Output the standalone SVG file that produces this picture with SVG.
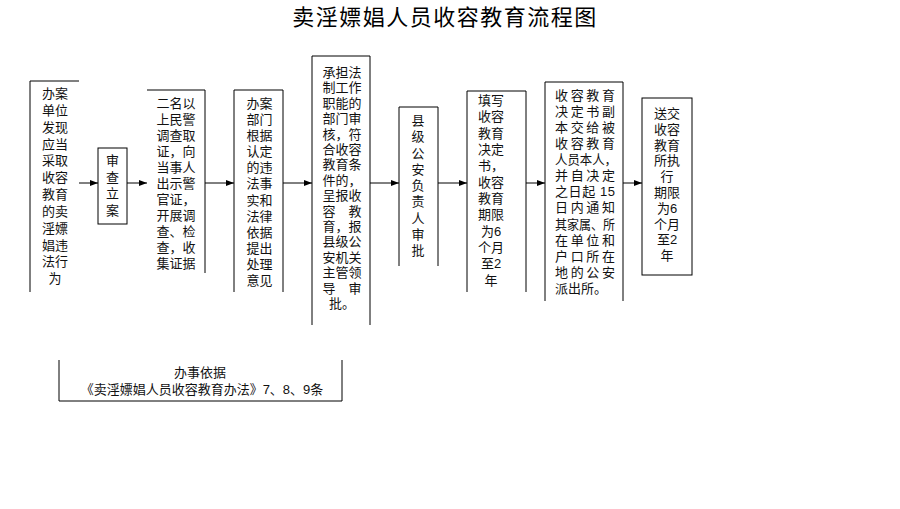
<svg xmlns="http://www.w3.org/2000/svg" width="900" height="509" viewBox="0 0 900 509">
<style>
.b{fill:none;stroke:#000;stroke-width:1}
.t{font-family:"Liberation Sans","Noto Sans CJK SC",sans-serif;font-size:13px;fill:#111;text-anchor:middle}
.l{text-anchor:start}
.c{stroke:#000;stroke-width:1;fill:none}
</style>
<defs>
<marker id="ah" markerWidth="8" markerHeight="6" refX="8" refY="3" orient="auto" markerUnits="userSpaceOnUse">
<path d="M0,0 L8,3 L0,6 Z" fill="#000"/>
</marker>
</defs>
<rect width="900" height="509" fill="#fff"/>
<text x="445" y="25" style="font-family:'Liberation Sans','Noto Sans CJK SC',sans-serif;font-size:22px;letter-spacing:1.5px;text-anchor:middle;fill:#000">卖淫嫖娼人员收容教育流程图</text>

<g id="n1">
<path class="b" d="M79,81 H30 V292"/>
<text class="t" x="55"><tspan x="55" y="98">办案</tspan><tspan x="55" y="115">单位</tspan><tspan x="55" y="132">发现</tspan><tspan x="55" y="149">应当</tspan><tspan x="55" y="165">采取</tspan><tspan x="55" y="182">收容</tspan><tspan x="55" y="199">教育</tspan><tspan x="55" y="216">的卖</tspan><tspan x="55" y="233">淫嫖</tspan><tspan x="55" y="250">娼违</tspan><tspan x="55" y="266">法行</tspan><tspan x="55" y="283">为</tspan></text>
</g>

<g id="n2">
<rect class="b" x="98" y="148" width="29" height="76"/>
<text class="t"><tspan x="112.5" y="165">审</tspan><tspan x="112.5" y="182">查</tspan><tspan x="112.5" y="198">立</tspan><tspan x="112.5" y="215">案</tspan></text>
</g>

<g id="n3">
<path class="b" d="M147,90 H205 V273"/>
<text class="t"><tspan x="176" y="108">二名以</tspan><tspan x="176" y="124">上民警</tspan><tspan x="176" y="140">调查取</tspan><tspan x="176" y="156">证，向</tspan><tspan x="176" y="172">当事人</tspan><tspan x="176" y="188">出示警</tspan><tspan x="176" y="204">官证，</tspan><tspan x="176" y="220">开展调</tspan><tspan x="176" y="236">查、检</tspan><tspan x="176" y="252">查，收</tspan><tspan x="176" y="268">集证据</tspan></text>
</g>

<g id="n4">
<path class="b" d="M234,292 V90 H283 V292"/>
<text class="t"><tspan x="259.5" y="108">办案</tspan><tspan x="259.5" y="124">部门</tspan><tspan x="259.5" y="140">根据</tspan><tspan x="259.5" y="156">认定</tspan><tspan x="259.5" y="172">的违</tspan><tspan x="259.5" y="188">法事</tspan><tspan x="259.5" y="205">实和</tspan><tspan x="259.5" y="221">法律</tspan><tspan x="259.5" y="237">依据</tspan><tspan x="259.5" y="253">提出</tspan><tspan x="259.5" y="269">处理</tspan><tspan x="259.5" y="285">意见</tspan></text>
</g>

<g id="n5">
<path class="b" d="M312,325 V56 H370 V325"/>
<text class="t"><tspan x="342" y="77">承担法</tspan><tspan x="342" y="92">制工作</tspan><tspan x="342" y="108">职能的</tspan><tspan x="342" y="123">部门审</tspan><tspan x="342" y="139">核，符</tspan><tspan x="342" y="154">合收容</tspan><tspan x="342" y="169">教育条</tspan><tspan x="342" y="185">件的，</tspan><tspan x="342" y="200">呈报收</tspan><tspan x="342" y="216">容　教</tspan><tspan x="342" y="231">育，报</tspan><tspan x="342" y="246">县级公</tspan><tspan x="342" y="262">安机关</tspan><tspan x="342" y="277">主管领</tspan><tspan x="342" y="293">导　审</tspan><tspan x="342" y="308">批。</tspan></text>
</g>

<g id="n6">
<path class="b" d="M399,266 V107 H438 V266"/>
<text class="t"><tspan x="418" y="125">县</tspan><tspan x="418" y="141">级</tspan><tspan x="418" y="158">公</tspan><tspan x="418" y="174">安</tspan><tspan x="418" y="190">负</tspan><tspan x="418" y="206">责</tspan><tspan x="418" y="223">人</tspan><tspan x="418" y="239">审</tspan><tspan x="418" y="255">批</tspan></text>
</g>

<g id="n7">
<path class="b" d="M467,292 V91 H526 V292"/>
<text class="t"><tspan x="491" y="105">填写</tspan><tspan x="491" y="121">收容</tspan><tspan x="491" y="138">教育</tspan><tspan x="491" y="154">决定</tspan><tspan x="491" y="170">书，</tspan><tspan x="491" y="187">收容</tspan><tspan x="491" y="203">教育</tspan><tspan x="491" y="219">期限</tspan><tspan x="491" y="236">为6</tspan><tspan x="491" y="252">个月</tspan><tspan x="491" y="268">至2</tspan><tspan x="491" y="285">年</tspan></text>
</g>

<g id="n8">
<path class="b" d="M545,301 V82 H623 V301"/>
<text class="t l"><tspan x="555" y="100" textLength="60" lengthAdjust="spacing">收容教育</tspan><tspan x="555" y="116" textLength="60" lengthAdjust="spacing">决定书副</tspan><tspan x="555" y="132" textLength="60" lengthAdjust="spacing">本交给被</tspan><tspan x="555" y="148" textLength="60" lengthAdjust="spacing">收容教育</tspan><tspan x="555" y="164" textLength="62" lengthAdjust="spacingAndGlyphs">人员本人，</tspan><tspan x="555" y="180" textLength="60" lengthAdjust="spacing">并自决定</tspan><tspan x="555" y="196" textLength="60" lengthAdjust="spacing">之日起 15</tspan><tspan x="555" y="212" textLength="60" lengthAdjust="spacing">日内通知</tspan><tspan x="555" y="229" textLength="60" lengthAdjust="spacingAndGlyphs">其家属、所</tspan><tspan x="555" y="245" textLength="60" lengthAdjust="spacing">在单位和</tspan><tspan x="555" y="261" textLength="60" lengthAdjust="spacing">户口所在</tspan><tspan x="555" y="277" textLength="60" lengthAdjust="spacing">地的公安</tspan><tspan x="555" y="293">派出所。</tspan></text>
</g>

<g id="n9">
<rect class="b" x="642" y="98" width="50" height="177"/>
<text class="t"><tspan x="667" y="118">送交</tspan><tspan x="667" y="134">收容</tspan><tspan x="667" y="150">教育</tspan><tspan x="667" y="165">所执</tspan><tspan x="667" y="181">行</tspan><tspan x="667" y="197">期限</tspan><tspan x="667" y="213">为6</tspan><tspan x="667" y="229">个月</tspan><tspan x="667" y="244">至2</tspan><tspan x="667" y="260">年</tspan></text>
</g>

<g id="n10">
<path class="b" d="M59,360 V401 H342 V360"/>
<text class="t"><tspan x="200" y="377">办事依据</tspan><tspan x="202" y="394">《卖淫嫖娼人员收容教育办法》7、8、9条</tspan></text>
</g>

<g id="connectors">
<line class="c" x1="79" y1="183" x2="98" y2="183" marker-end="url(#ah)"/>
<line class="c" x1="127" y1="183" x2="147" y2="183" marker-end="url(#ah)"/>
<line class="c" x1="205" y1="183" x2="234" y2="183" marker-end="url(#ah)"/>
<line class="c" x1="283" y1="183" x2="312" y2="183" marker-end="url(#ah)"/>
<line class="c" x1="370" y1="183" x2="399" y2="183" marker-end="url(#ah)"/>
<line class="c" x1="438" y1="183" x2="467" y2="183" marker-end="url(#ah)"/>
<line class="c" x1="526" y1="183" x2="545" y2="183" marker-end="url(#ah)"/>
<line class="c" x1="623" y1="183" x2="642" y2="183" marker-end="url(#ah)"/>
</g>
</svg>
